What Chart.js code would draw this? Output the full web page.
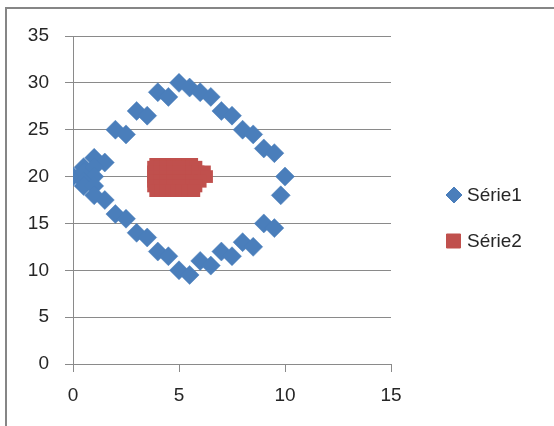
<!DOCTYPE html>
<html>
<head>
<meta charset="utf-8">
<script src="https://cdn.jsdelivr.net/npm/chart.js@4/dist/chart.umd.min.js"></script>
<style>
  html, body { margin: 0; padding: 0; background: #fff; overflow: hidden; }
  #wrap { position: relative; width: 554px; height: 426px; }
  canvas { display: block; }
</style>
</head>
<body>
<div id="wrap"><canvas id="c" width="554" height="426"></canvas></div>
<script>
// Série1: diamond outline points
const serie1X = [0, 0.5, 1, 1.5, 0.5, 1, 1, 0.5, 0.5, 1, 1, 1.5,
                 2, 2.5, 3, 3.5, 4, 4.5, 5, 5.5, 6, 6.5, 7, 7.5, 8, 8.5, 9, 9.5, 10, 9.8,
                 9, 9.5, 8, 8.5, 7, 7.5, 6, 6.5, 5, 5.5, 4, 4.5, 3, 3.5, 2, 2.5];
const serie1Y = [20, 21, 22, 21.5, 20.5, 21, 20, 19.5, 19, 19, 18, 17.5,
                 25, 24.5, 27, 26.5, 29, 28.5, 30, 29.5, 29, 28.5, 27, 26.5, 25, 24.5, 23, 22.5, 20, 18,
                 15, 14.5, 13, 12.5, 12, 11.5, 11, 10.5, 10, 9.5, 12, 11.5, 14, 13.5, 16, 15.5];

// Série2: dense cluster in the middle
const serie2X = [3.9, 4.15, 4.4, 4.65, 4.9, 5.15, 5.4, 5.6,
                 3.8, 4.1, 4.4, 4.7, 5.0, 5.3, 5.6, 5.8,
                 3.8, 4.1, 4.4, 4.7, 5.0, 5.3, 5.6, 5.9, 6.2,
                 3.8, 4.1, 4.4, 4.7, 5.0, 5.3, 5.6, 5.9, 6.3,
                 3.8, 4.1, 4.4, 4.7, 5.0, 5.3, 5.6, 6.0,
                 3.8, 4.1, 4.4, 4.7, 5.0, 5.3, 5.6, 5.8,
                 3.9, 4.15, 4.4, 4.65, 4.9, 5.15, 5.4, 5.7];
const serie2Y = [21.3, 21.3, 21.3, 21.3, 21.3, 21.3, 21.3, 21.3,
                 21, 21, 21, 21, 21, 21, 21, 21,
                 20.5, 20.5, 20.5, 20.5, 20.5, 20.5, 20.5, 20.5, 20.5,
                 20, 20, 20, 20, 20, 20, 20, 20, 20,
                 19.5, 19.5, 19.5, 19.5, 19.5, 19.5, 19.5, 19.5,
                 19, 19, 19, 19, 19, 19, 19, 19,
                 18.5, 18.5, 18.5, 18.5, 18.5, 18.5, 18.5, 18.5];

const seriesNames = ['Série1', 'Série2'];
const xTicks = [0, 5, 10, 15];
const yTicks = [0, 5, 10, 15, 20, 25, 30, 35];

const toPoints = (xs, ys) => xs.map((x, i) => ({ x: x, y: ys[i] }));

const FONT = { family: "'Liberation Sans', Arial, sans-serif", size: 19 };
const TEXT = '#262626';
const GRID = '#8a8a8a';

const styles = [
  { pointStyle: 'rectRot', fill: '#4A7EBB', stroke: '#4A7EBB', radius: 9.5, border: 0.5 },
  { pointStyle: 'rect', fill: '#C0504D', stroke: '#C0504D', radius: 9, border: 0 }
];

// outer frame of the chart area
const framePlugin = {
  id: 'frame',
  beforeDraw(chart) {
    const ctx = chart.ctx;
    ctx.save();
    ctx.fillStyle = '#fff';
    ctx.fillRect(0, 0, chart.width, chart.height);
    ctx.strokeStyle = '#868686';
    ctx.lineWidth = 2;
    ctx.strokeRect(6, 8, chart.width + 20, chart.height + 20);
    ctx.restore();
  }
};

// legend on the right, marker + series name
const sideLegend = {
  id: 'sideLegend',
  afterDraw(chart) {
    const ctx = chart.ctx;
    const rows = [195, 241];
    ctx.save();
    chart.data.datasets.forEach((ds, i) => {
      const y = rows[i];
      ctx.fillStyle = ds.backgroundColor;
      ctx.strokeStyle = ds.borderColor;
      ctx.lineWidth = 1;
      ctx.beginPath();
      if (ds.pointStyle === 'rectRot') {
        const r = 8;
        ctx.moveTo(454 - r, y);
        ctx.lineTo(454, y - r);
        ctx.lineTo(454 + r, y);
        ctx.lineTo(454, y + r);
        ctx.closePath();
      } else {
        ctx.rect(446.5, y - 7, 14, 14);
      }
      ctx.fill();
      ctx.stroke();
      ctx.fillStyle = TEXT;
      ctx.font = FONT.size + 'px ' + FONT.family;
      ctx.textAlign = 'left';
      ctx.textBaseline = 'middle';
      ctx.fillText(ds.label, 467, y + 1);
    });
    ctx.restore();
  }
};

new Chart(document.getElementById('c'), {
  type: 'scatter',
  data: {
    datasets: seriesNames.map((name, i) => ({
      label: name,
      data: i === 0 ? toPoints(serie1X, serie1Y) : toPoints(serie2X, serie2Y),
      pointStyle: styles[i].pointStyle,
      backgroundColor: styles[i].fill,
      borderColor: styles[i].stroke,
      borderWidth: styles[i].border,
      pointRadius: styles[i].radius,
      pointHoverRadius: styles[i].radius
    }))
  },
  options: {
    responsive: false,
    animation: false,
    devicePixelRatio: 1,
    layout: { padding: { left: 0, right: 163, top: 36, bottom: 0 } },
    plugins: {
      legend: { display: false },
      tooltip: { enabled: false }
    },
    scales: {
      x: {
        type: 'linear',
        min: xTicks[0],
        max: xTicks[xTicks.length - 1],
        afterBuildTicks: s => { s.ticks = xTicks.map(v => ({ value: v })); },
        afterFit: s => { s.height = 62; },
        ticks: { font: FONT, color: TEXT, padding: 12, maxRotation: 0 },
        grid: { drawOnChartArea: false, drawTicks: true, tickLength: 8, color: GRID },
        border: { color: GRID, width: 1 }
      },
      y: {
        type: 'linear',
        min: yTicks[0],
        max: yTicks[yTicks.length - 1],
        afterBuildTicks: s => { s.ticks = yTicks.map(v => ({ value: v })); },
        afterFit: s => { s.width = 73; },
        ticks: { font: FONT, color: TEXT, padding: 16 },
        grid: { color: GRID, tickLength: 8 },
        border: { color: GRID, width: 1 }
      }
    }
  },
  plugins: [framePlugin, sideLegend]
});
</script>
</body>
</html>
